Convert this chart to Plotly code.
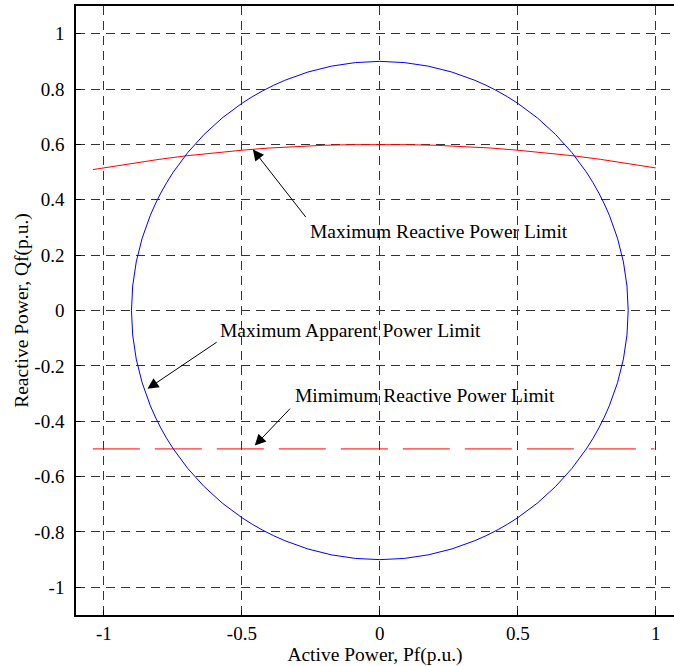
import plotly.graph_objects as go

# Operating limits of the converter in the P-Q plane
radius_s = 0.9  # maximum apparent power limit (p.u.)

# Maximum reactive power limit curve
p_qmax = [-1.04, -0.9, -0.8, -0.7, -0.6, -0.5, -0.4, -0.3, -0.2, -0.1, 0.0,
          0.1, 0.2, 0.3, 0.4, 0.5, 0.6, 0.7, 0.8, 0.9, 1.0]
q_qmax = [0.509, 0.531, 0.546, 0.559, 0.570, 0.579, 0.587, 0.593, 0.597, 0.599, 0.600,
          0.599, 0.597, 0.593, 0.587, 0.579, 0.570, 0.559, 0.546, 0.531, 0.515]

# Minimum reactive power limit
p_qmin = [-1.04, 0.995]
q_qmin = [-0.5, -0.5]

FONT = "Liberation Serif"

fig = go.Figure()

fig.add_trace(go.Scatter(x=p_qmax, y=q_qmax, mode="lines",
                         line=dict(color="#ff0000", width=1), showlegend=False))
fig.add_trace(go.Scatter(x=p_qmin, y=q_qmin, mode="lines",
                         line=dict(color="#ff0000", width=1, dash="47px,15px"),
                         showlegend=False))

fig.add_shape(type="circle", xref="x", yref="y",
              x0=-radius_s, y0=-radius_s, x1=radius_s, y1=radius_s,
              line=dict(color="#0000ff", width=1))

labels = [
    ("Maximum Reactive Power Limit", -0.261, 0.285, -0.264, 0.332, -0.460, 0.582),
    ("Maximum Apparent Power Limit", -0.587, -0.072, -0.586, -0.111, -0.842, -0.283),
    ("Mimimum Reactive Power Limit", -0.314, -0.307, -0.320, -0.349, -0.453, -0.488),
]
for text, tx, ty, ax, ay, hx, hy in labels:
    fig.add_annotation(x=tx, y=ty, text=text, showarrow=False,
                       xanchor="left", yanchor="middle",
                       font=dict(family=FONT, size=19.5, color="black"))
    fig.add_annotation(x=hx, y=hy, ax=ax, ay=ay, axref="x", ayref="y",
                       text="", showarrow=True, arrowhead=2, arrowsize=2.2,
                       arrowwidth=1, arrowcolor="black", standoff=0)

axis_common = dict(
    showgrid=True, gridcolor="#333333", gridwidth=1, griddash="9px,6px",
    zeroline=False, showline=True, linecolor="black", linewidth=1.5,
    ticks="inside", ticklen=5, tickcolor="black",
    tickfont=dict(family=FONT, size=19, color="black"),
)

fig.update_layout(
    width=674, height=666,
    margin=dict(l=76, r=0, t=6, b=51),
    plot_bgcolor="white", paper_bgcolor="white",
    xaxis=dict(range=[-1.101, 1.066], tickvals=[-1, -0.5, 0, 0.5, 1],
               ticktext=["-1", "-0.5", "0", "0.5", "1"], mirror=True,
               ticklabelstandoff=0,
               title=dict(text="Active Power, Pf(p.u.)", standoff=3,
                          font=dict(family=FONT, size=19.5, color="black")),
               **axis_common),
    yaxis=dict(range=[-1.1, 1.1],
               tickvals=[-1, -0.8, -0.6, -0.4, -0.2, 0, 0.2, 0.4, 0.6, 0.8, 1],
               ticktext=["-1", "-0.8", "-0.6", "-0.4", "-0.2", "0", "0.2", "0.4",
                         "0.6", "0.8", "1"],
               ticklabelstandoff=6,
               title=dict(text="Reactive Power, Qf(p.u.)", standoff=1,
                          font=dict(family=FONT, size=19.5, color="black")),
               **axis_common),
)

fig.write_html("out.html")
